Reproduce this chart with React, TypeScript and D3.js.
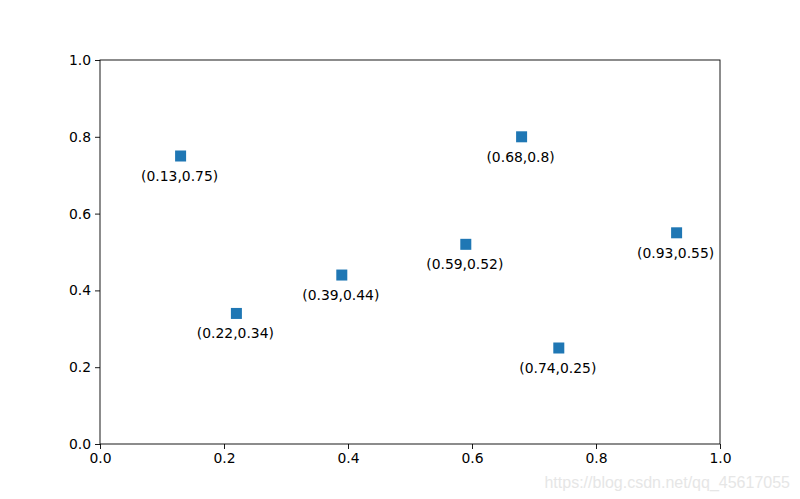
import * as d3 from "d3";
import { useEffect, useRef } from "react";

const xs = [0.13, 0.22, 0.39, 0.59, 0.68, 0.74, 0.93];
const ys = [0.75, 0.34, 0.44, 0.52, 0.8, 0.25, 0.55];
const tickValues = [0, 0.2, 0.4, 0.6, 0.8, 1.0];

export default function App() {
  const ref = useRef<SVGSVGElement>(null);

  useEffect(() => {
    const svg = d3.select(ref.current);
    svg.selectAll("*").remove();
    const width = 800;
    const height = 499;
    const margin = { top: 60, right: 80, bottom: 55, left: 100 };

    const x = d3.scaleLinear().domain([0, 1]).range([margin.left, width - margin.right]);
    const y = d3.scaleLinear().domain([0, 1]).range([height - margin.bottom, margin.top]);

    svg.attr("width", width).attr("height", height).style("display", "block").style("background", "#fff");

    const font = "DejaVu Sans, sans-serif";

    const xAxis = svg.append("g")
      .attr("transform", `translate(0,${height - margin.bottom})`)
      .call(d3.axisBottom(x).tickValues(tickValues).tickFormat(d3.format(".1f")).tickSize(5).tickPadding(4));
    const yAxis = svg.append("g")
      .attr("transform", `translate(${margin.left},0)`)
      .call(d3.axisLeft(y).tickValues(tickValues).tickFormat(d3.format(".1f")).tickSize(5).tickPadding(4));

    [xAxis, yAxis].forEach(g => {
      g.select(".domain").remove();
      g.selectAll("line").attr("stroke", "#000").attr("stroke-width", 0.9);
      g.selectAll("text").attr("fill", "#000").style("font-family", font).style("font-size", "13.9px");
    });

    // frame
    svg.append("rect")
      .attr("x", margin.left)
      .attr("y", margin.top)
      .attr("width", width - margin.left - margin.right)
      .attr("height", height - margin.top - margin.bottom)
      .attr("fill", "none")
      .attr("stroke", "#000")
      .attr("stroke-width", 0.9);

    const pts = xs.map((v, i) => [v, ys[i]] as [number, number]);
    const size = 11;

    svg.append("g").selectAll("rect")
      .data(pts)
      .join("rect")
      .attr("x", d => x(d[0]) - size / 2)
      .attr("y", d => y(d[1]) - size / 2)
      .attr("width", size)
      .attr("height", size)
      .attr("fill", "#1f77b4");

    svg.append("g").selectAll("text")
      .data(pts)
      .join("text")
      .attr("x", d => x(d[0]) - 1)
      .attr("y", d => y(d[1]) + 25)
      .attr("text-anchor", "middle")
      .style("font-family", font)
      .style("font-size", "13.9px")
      .attr("fill", "#000")
      .text(d => `(${d[0]},${d[1]})`);

    svg.append("text")
      .attr("x", 790)
      .attr("y", 488)
      .attr("text-anchor", "end")
      .style("font-family", "Liberation Sans, Arial, sans-serif")
      .style("font-size", "16px")
      .attr("fill", "#e6e6e6")
      .text("https://blog.csdn.net/qq_45617055");
  }, []);

  return <svg ref={ref} style={{ position: "absolute", left: 0, top: 0 }} />;
}
